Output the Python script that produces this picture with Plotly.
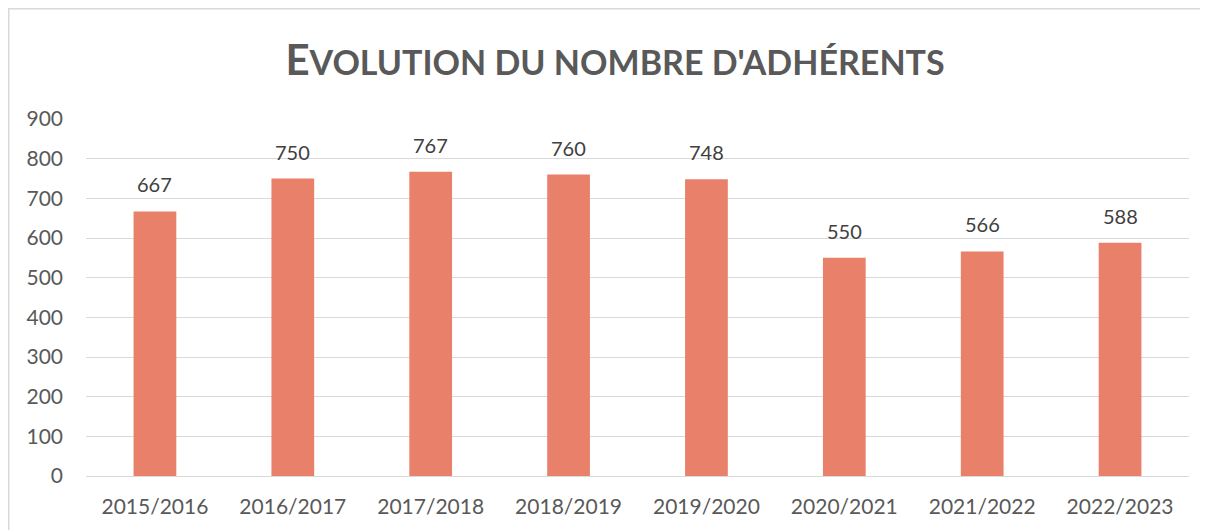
import plotly.graph_objects as go

categories = ["2015/2016", "2016/2017", "2017/2018", "2018/2019", "2019/2020",
              "2020/2021", "2021/2022", "2022/2023"]
adherents = [667, 750, 767, 760, 748, 550, 566, 588]
y_ticks = [0, 100, 200, 300, 400, 500, 600, 700, 800, 900]

BAR = "#E9806A"
GRID = "#D9D9D9"
TXT = "#595959"
FONT = "Lato, 'Open Sans', sans-serif"

W, H = 1200, 522
L, R, T, B = 78, 19, 111, 54
PW, PH = W - L - R, H - T - B

fig = go.Figure()
fig.add_trace(go.Bar(x=categories, y=adherents, marker=dict(color=BAR, line=dict(width=0)),
                     width=0.31, hoverinfo="x+y"))

for c, v in zip(categories, adherents):
    fig.add_annotation(x=c, y=v, text=str(v), showarrow=False, yanchor="bottom",
                       yshift=13, font=dict(family=FONT, size=20, color="#404040"))

fig.update_layout(
    width=W, height=H,
    margin=dict(l=L, r=R, t=T, b=B),
    paper_bgcolor="white", plot_bgcolor="white",
    showlegend=False,
    title=dict(
        text="E<span style='font-size:34px'>VOLUTION DU NOMBRE D'ADHÉRENTS</span>",
        x=(615 - 8) / W, xanchor="center", y=1 - (60 - 8) / H, yanchor="middle",
        font=dict(family=FONT, size=42, color=TXT, weight="bold"),
    ),
    xaxis=dict(
        tickfont=dict(family=FONT, size=21, color=TXT),
        showline=True, linecolor=GRID, linewidth=1,
        ticks="", showgrid=False, ticklabelstandoff=12,
    ),
    yaxis=dict(
        range=[0, 900], tickvals=y_ticks,
        tickfont=dict(family=FONT, size=21, color=TXT),
        showgrid=True, gridcolor=GRID, gridwidth=1,
        zeroline=True, zerolinecolor=GRID, zerolinewidth=1,
        ticks="", ticklen=0, showline=False, ticklabelstandoff=22,
    ),
    shapes=[dict(type="rect", xref="paper", yref="paper",
                 x0=(0.75 - L) / PW, x1=1.2, y0=-0.5, y1=1 + (T - 0.75) / PH,
                 line=dict(color=GRID, width=1.5), fillcolor="rgba(0,0,0,0)", layer="below")],
)

fig.write_html("out.html")
